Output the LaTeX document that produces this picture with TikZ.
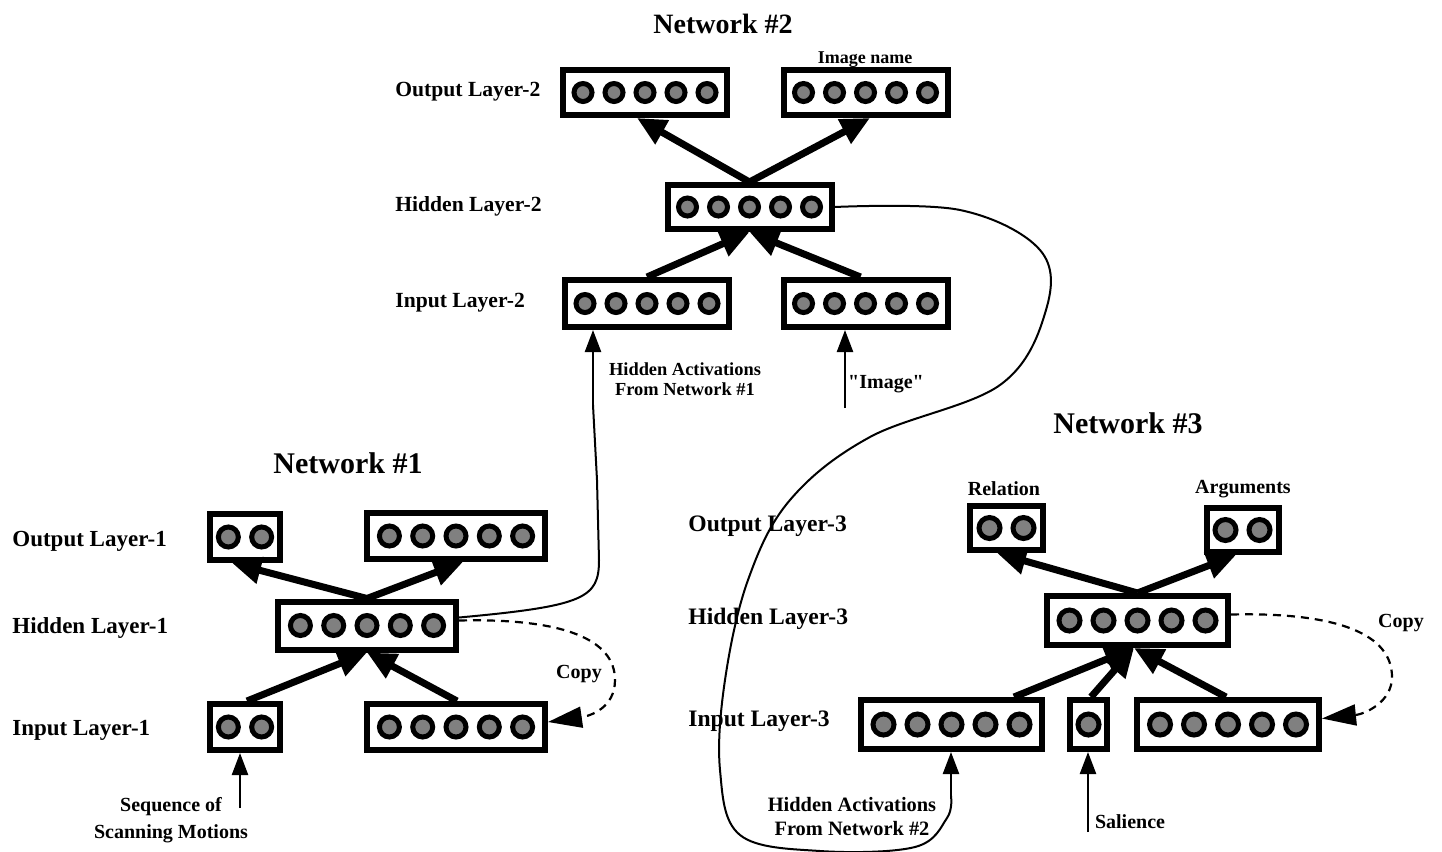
\documentclass[tikz,border=0pt]{standalone}
\usepackage{fontspec}
\setmainfont{Liberation Serif}
\newfontfamily\rawserif{Liberation Serif}[Ligatures=TeXOff]
\usetikzlibrary{arrows.meta,calc}

\newcommand{\addunits}[4]{%
  \foreach \k in {1,...,#2}
    \node[unit, minimum size=#4] (#1-\k) at ($(#1.center)+({(\k-(#2+1)/2)*#3},0)$) {};}

\begin{document}
\begin{tikzpicture}[x=0.5pt, y=-0.5pt]
    \useasboundingbox (0,0) rectangle (1442,852);

    \tikzstyle{layer} = [rectangle, draw, line width=3pt, fill=white, inner sep=0pt, minimum height=23pt]
    \tikzstyle{unit} = [circle, draw, line width=2.5pt, fill=gray, inner sep=0pt]
    \tikzstyle{feed} = [line width=3.5pt, -{Triangle[length=14.5pt, width=13pt]}]
    \tikzstyle{inarrow} = [line width=1.2pt, -{Triangle[length=11pt, width=8pt]}]
    \tikzstyle{wire} = [line width=1pt]
    \tikzstyle{copyarrow} = [line width=1.1pt, dash pattern=on 4pt off 3pt, -{Triangle[length=17pt, width=10.5pt]}]
    \tikzstyle{title} = [inner sep=0pt, anchor=base, font=\fontsize{15}{18}\selectfont\bfseries]
    \tikzstyle{lname} = [inner sep=0pt, anchor=base west, font=\fontsize{11.5}{14}\selectfont\bfseries]
    \tikzstyle{note} = [inner sep=0pt, align=center, font=\fontsize{10}{12}\selectfont\bfseries]

    % network 1
    \node[title] (net1) at (348,473) {Network \#1};
    \node[lname] (lout1) at (12,546) {Output Layer-1};
    \node[lname] (lhid1) at (12,633) {Hidden Layer-1};
    \node[lname] (lin1) at (12,735) {Input Layer-1};

    \node[layer, minimum width=35pt] (out1a) at (245,537) {};
    \addunits{out1a}{2}{33.3}{10pt}
    \node[layer, minimum width=89pt] (out1b) at (456,536) {};
    \addunits{out1b}{5}{33.3}{10pt}
    \node[layer, minimum width=89pt, minimum height=24pt] (hid1) at (367,625.5) {};
    \addunits{hid1}{5}{33.3}{10pt}
    \node[layer, minimum width=35pt] (in1a) at (245,727) {};
    \addunits{in1a}{2}{33.3}{10pt}
    \node[layer, minimum width=89pt] (in1b) at (456,727) {};
    \addunits{in1b}{5}{33.3}{10pt}

    \draw[feed] (hid1.north) -- ($(out1a.south)+(-13,0)$);
    \draw[feed] (hid1.north) -- ($(out1b.south)+(7,0)$);
    \draw[feed] ($(in1a.north)+(2,0)$) -- (hid1.south);
    \draw[feed] ($(in1b.north)+(1,0)$) -- (hid1.south);

    \coordinate (seqtail) at (240,808);
    \draw[inarrow] (seqtail) -- (seqtail |- in1a.south);
    \node[note, font=\fontsize{10}{13.5}\selectfont\bfseries] (seq) at (171,820) {Sequence of\\Scanning Motions};

    \draw[copyarrow] ($(hid1.east)+(0,-5)$) .. controls (565,618) and (615,640) .. (615,680)
        .. controls (615,708) and (590,716) .. ($(in1b.east)+(0,-5)$);
    \node[note, anchor=base] (copy1) at (579,678) {Copy};

    % network 2
    \node[title, font=\fontsize{14}{17}\selectfont\bfseries] (net2) at (723,33) {Network \#2};
    \node[lname, font=\fontsize{10.8}{13}\selectfont\bfseries] (lout2) at (395,96) {Output Layer-2};
    \node[lname, font=\fontsize{10.8}{13}\selectfont\bfseries] (lhid2) at (395,211) {Hidden Layer-2};
    \node[lname, font=\fontsize{10.8}{13}\selectfont\bfseries] (lin2) at (395,307) {Input Layer-2};

    \node[layer, minimum width=82pt, minimum height=22.5pt] (out2a) at (645,92.5) {};
    \addunits{out2a}{5}{31}{9pt}
    \node[layer, minimum width=82pt, minimum height=22.5pt] (out2b) at (865.5,92.5) {};
    \addunits{out2b}{5}{31}{9pt}
    \node[layer, minimum width=82pt, minimum height=22pt] (hid2) at (749.5,207) {};
    \addunits{hid2}{5}{31}{9pt}
    \node[layer, minimum width=82pt, minimum height=23.5pt] (in2a) at (647,303.5) {};
    \addunits{in2a}{5}{31}{9pt}
    \node[layer, minimum width=82pt, minimum height=23.5pt] (in2b) at (865.5,303.5) {};
    \addunits{in2b}{5}{31}{9pt}
    \node[note, anchor=base, font=\fontsize{9}{11}\selectfont\bfseries] (imgname) at (865,63) {Image name};

    \draw[feed] (hid2.north) -- ($(out2a.south)+(-8,0)$);
    \draw[feed] (hid2.north) -- ($(out2b.south)+(4.5,0)$);
    \draw[feed] (in2a.north) -- (hid2.south);
    \draw[feed] ($(in2b.north)+(-5,0)$) -- (hid2.south);

    \coordinate (act1) at (593,405);
    \draw[wire] ($(hid1.east)+(0,-8)$) .. controls (585,606) and (599,598) .. (599,560) -- (597,480) -- (act1);
    \draw[inarrow] (act1) -- (act1 |- in2a.south);
    \node[note, font=\fontsize{9.2}{10}\selectfont\bfseries] (from1) at (685,379) {Hidden Activations\\ From Network \#1};

    \coordinate (imgtail) at (845,408);
    \draw[inarrow] (imgtail) -- (imgtail |- in2b.south);
    \node[note, anchor=base] (img) at (886,388) {\rawserif\bfseries "Image"};

    % network 3
    \node[title] (net3) at (1128,433) {Network \#3};
    \node[lname, font=\fontsize{11.8}{14}\selectfont\bfseries] (lout3) at (688,531) {Output Layer-3};
    \node[lname, font=\fontsize{11.8}{14}\selectfont\bfseries] (lhid3) at (688,624) {Hidden Layer-3};
    \node[lname, font=\fontsize{11.8}{14}\selectfont\bfseries] (lin3) at (688,726) {Input Layer-3};

    \node[layer, minimum width=36.5pt, minimum height=22pt] (out3a) at (1006.5,528) {};
    \addunits{out3a}{2}{34}{10.5pt}
    \node[layer, minimum width=36pt, minimum height=22pt] (out3b) at (1242.5,530) {};
    \addunits{out3b}{2}{34}{10.5pt}
    \node[layer, minimum width=90.5pt, minimum height=24.5pt] (hid3) at (1137.5,620.5) {};
    \addunits{hid3}{5}{34}{10.5pt}
    \node[layer, minimum width=90.5pt, minimum height=24.5pt] (in3a) at (951.5,724.5) {};
    \addunits{in3a}{5}{34}{10.5pt}
    \node[layer, minimum width=18.5pt, minimum height=24.5pt] (in3b) at (1088.5,724.5) {};
    \addunits{in3b}{1}{34}{10.5pt}
    \node[layer, minimum width=91pt, minimum height=24.5pt] (in3c) at (1228,724.5) {};
    \addunits{in3c}{5}{34}{10.5pt}
    \node[note, anchor=base] (rel) at (1004,495) {Relation};
    \node[note, anchor=base] (args) at (1243,493) {Arguments};

    \draw[feed] (hid3.north) -- ($(out3a.south)+(-9.5,0)$);
    \draw[feed] (hid3.north) -- ($(out3b.south)+(-6.5,0)$);
    \draw[feed] ($(in3a.north)+(62.5,0)$) -- ($(hid3.south)+(-3.5,0)$);
    \draw[feed] ($(in3b.north)+(2.5,0)$) -- ($(hid3.south)+(-3.5,0)$);
    \draw[feed] ($(in3c.north)+(-2,0)$) -- ($(hid3.south)+(-3.5,0)$);

    \coordinate (act2) at (951,796);
    \draw[wire] plot[smooth, tension=0.6] coordinates {(hid2.east) (960,210) (1040,250) (1046,310)
        (1000,385) (870,437) (790,500) (748,580) (725,680) (720,770) (740,835) (820,851) (915,847) (947,818) (act2)};
    \draw[inarrow] (act2) -- (act2 |- in3a.south);
    \node[note, font=\fontsize{10.2}{12}\selectfont\bfseries] (from2) at (852,817) {Hidden Activations\\From Network \#2};

    \coordinate (saltail) at (1088,832);
    \draw[inarrow] (saltail) -- (saltail |- in3b.south);
    \node[note, anchor=base] (sal) at (1130,828) {Salience};

    \draw[copyarrow] ($(hid3.east)+(0,-6)$) .. controls (1340,612) and (1392,635) .. (1392,677)
        .. controls (1392,702) and (1365,714) .. ($(in3c.east)+(0,-6)$);
    \node[note, anchor=base] (copy3) at (1401,627) {Copy};
\end{tikzpicture}
\end{document}
